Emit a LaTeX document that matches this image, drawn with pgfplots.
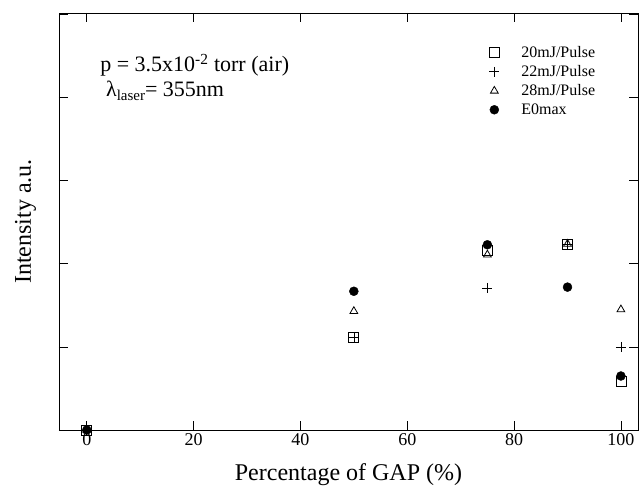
\documentclass[border=0pt]{standalone}
\usepackage{fontspec}
\setmainfont{Liberation Serif}
\usepackage{pgfplots}
\pgfplotsset{compat=1.18}

\begin{document}
\begin{tikzpicture}
\begin{axis}[
  name=ax,
  scale only axis,
  width=579pt, height=417pt,
  xmin=-5.2, xmax=103.2,
  ymin=0, ymax=5.02,
  xtick={0,20,40,60,80,100},
  ytick={0,1,2,3,4,5},
  yticklabels={},
  tick align=inside,
  major tick length=9pt,
  axis line style={line width=0.8pt},
  every tick/.style={black, line width=0.8pt},
  /pgf/number format/assume math mode=true,
  ticklabel style={font=\fontsize{18}{20}\selectfont},
  xlabel={Percentage of GAP (\%)},
  ylabel={Intensity a.u.},
  label style={font=\fontsize{24}{26}\selectfont},
  xlabel style={yshift=-11pt},
  ylabel style={at={(axis description cs:-0.058,0.5)}, anchor=center},
  legend style={at={(0.736,0.93)}, anchor=north west, draw=none, fill=none,
    font=\fontsize{16}{18}\selectfont, row sep=2.5pt,
    cells={anchor=west}},
  legend cell align=left,
  legend image code/.code={
    \path[draw=none, fill=none] (0pt,-3pt) rectangle (31pt,3pt);
    \draw[#1, only marks] plot coordinates {(6pt,0pt)};
  },
  clip=false,
]
\addplot[only marks, mark=square, mark size=5pt, line width=0.8pt]
  coordinates {(0,0) (50,1.11) (75,2.16) (90,2.24) (100,0.58)};
\addplot[only marks, mark=+, mark size=5pt, line width=0.6pt]
  coordinates {(0,0) (50,1.11) (75,1.71) (90,2.24) (100,1.00)};
\addplot[only marks, mark=triangle, mark size=4.5pt, line width=0.8pt]
  coordinates {(0,0) (50,1.43) (75,2.11) (90,2.24) (100,1.45)};
\addplot[only marks, mark=*, mark size=4.5pt, fill=black]
  coordinates {(0,0) (50,1.67) (75,2.23) (90,1.72) (100,0.65)};
\legend{20mJ/Pulse, 22mJ/Pulse, 28mJ/Pulse, E0max}
\node[anchor=base west, font=\fontsize{22}{24}\selectfont, inner sep=0pt]
  at (axis description cs:0.071,0.859) {p = 3.5x10\textsuperscript{-2} torr (air)};
\node[anchor=base west, font=\fontsize{22}{24}\selectfont, inner sep=0pt]
  at (axis description cs:0.081,0.799) {λ\raisebox{-0.35ex}{\fontsize{15}{17}\selectfont laser}= 355nm};
\end{axis}
\path (ax.south west) ++(-59pt,-58pt) rectangle ([shift={(1pt,13pt)}]ax.north east);
\end{tikzpicture}
\end{document}
